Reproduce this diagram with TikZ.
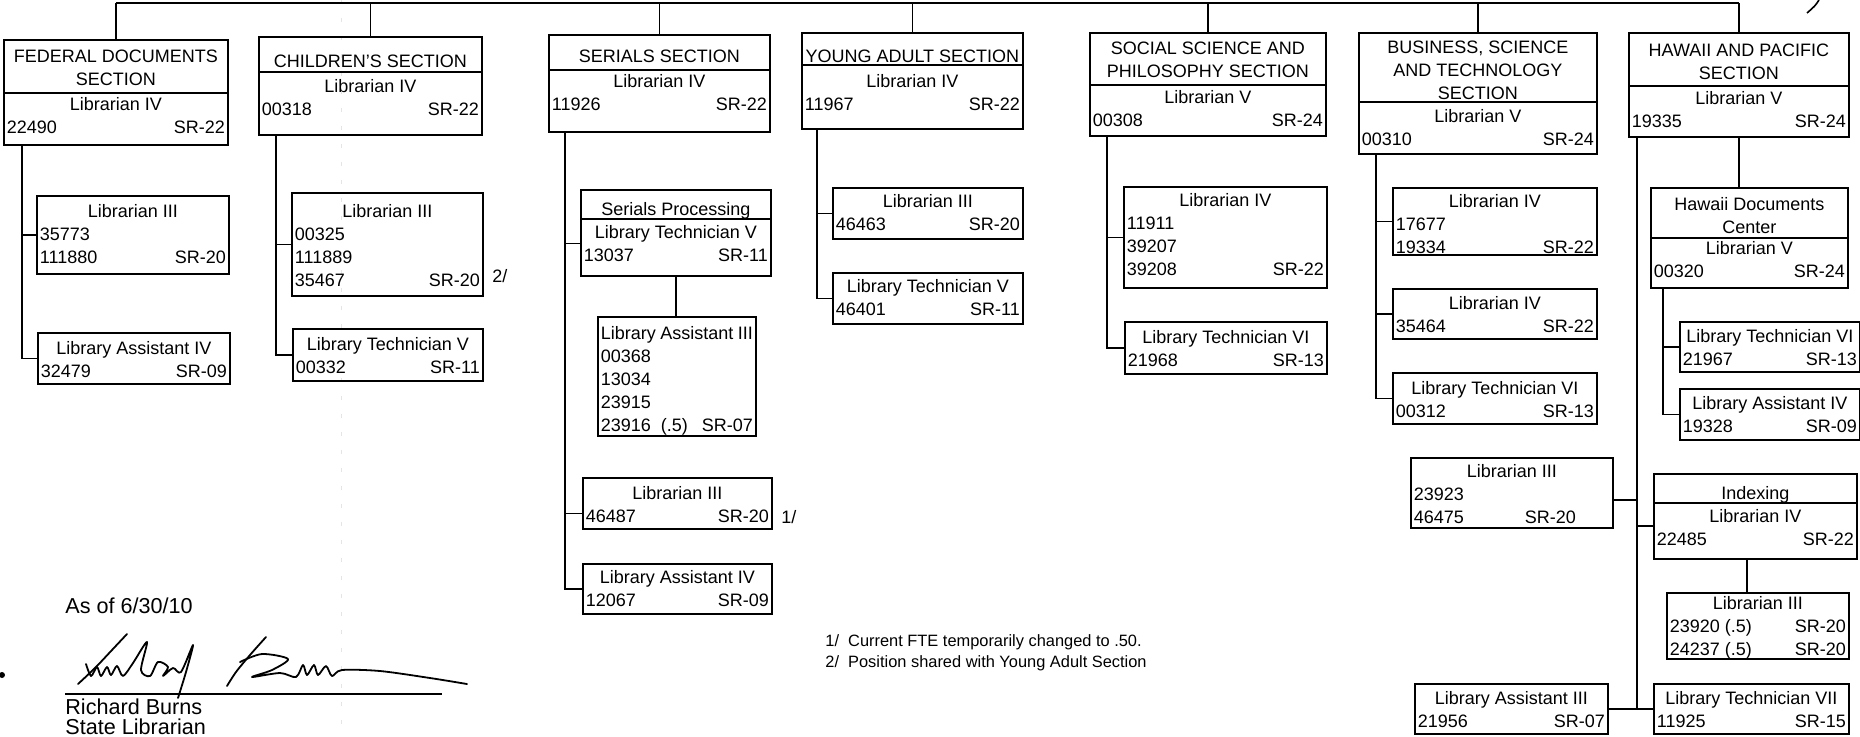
\documentclass[tikz,border=0pt]{standalone}
\usepackage{fontspec}
\setmainfont{Liberation Sans}
\usetikzlibrary{calc}
\tikzset{
  bx/.style={draw, line width=0.9pt, inner sep=0pt, anchor=north west, font=\fontsize{9}{11.5}\selectfont},
  ln/.style={line width=0.8pt},
  note/.style={inner sep=0pt, anchor=west, font=\fontsize{8.2}{11}\selectfont},
  fnmark/.style={inner sep=0pt, anchor=west, font=\fontsize{9}{11}\selectfont},
  sigtext/.style={inner sep=0pt, anchor=base west, font=\fontsize{10.8}{13}\selectfont},
  pen/.style={line width=0.9pt, line cap=round, line join=round},
}
% name, x1, y1, x2, y2, first-line centre y, content   (all in px)
\newcommand\orgbox[7]{%
  \pgfmathsetmacro\obw{(#4-#2)/2}%
  \pgfmathsetmacro\obh{(#5-#3)/2}%
  \pgfmathsetmacro\obt{(#4-#2)/2-3}%
  \pgfmathsetmacro\obp{max(0,(#6-#3-6.5)/2)}%
  \node[bx] (#1) at (#2,#3) {\vbox to \obh pt{\vskip\obp pt\hbox to \obw pt{\hskip1.5pt\vtop{\hsize=\obt pt\parindent=0pt\parskip=0pt\centering #7\par}\hss}\vss}};%
}
\begin{document}
\begin{tikzpicture}[x=0.5pt,y=-0.5pt]
\useasboundingbox (0,0) rectangle (1860,736);

% faint fold line of the scan
\draw[gray!20, line width=0.5pt, dash pattern=on 2pt off 7pt] (341,0) -- (341,736);

% ---------------- FEDERAL DOCUMENTS
\orgbox{fedh}{3}{39}{227}{92}{56}{FEDERAL DOCUMENTS\par SECTION}
\orgbox{fed}{3}{92}{227}{144}{103}{Librarian IV\par 22490\hfill SR-22}
\orgbox{fl3}{36}{195}{228}{273}{210}{Librarian III\par 35773\hfill\mbox{}\par 111880\hfill SR-20}
\orgbox{fla4}{37}{332}{229}{383}{347}{Library Assistant IV\par 32479\hfill SR-09}

% ---------------- CHILDREN'S
\orgbox{chih}{258}{36}{481}{71}{61}{CHILDREN'S SECTION}
\orgbox{chi}{258}{71}{481}{134}{85}{Librarian IV\par 00318\hfill SR-22}
\orgbox{cl3}{291}{192}{482}{295}{210}{Librarian III\par 00325\hfill\mbox{}\par 111889\hfill\mbox{}\par 35467\hfill SR-20}
\orgbox{clt5}{292}{328}{482}{380}{343}{Library Technician V\par 00332\hfill SR-11}
\node[fnmark] (m2) at (492,276) {2/};

% ---------------- SERIALS
\orgbox{serh}{548}{34}{769}{69}{56}{SERIALS SECTION}
\orgbox{ser}{548}{69}{769}{131}{80}{Librarian IV\par 11926\hfill SR-22}
\orgbox{sph}{580}{189}{770}{218}{208}{Serials Processing}
\orgbox{sp}{580}{218}{770}{275}{231}{Library Technician V\par 13037\hfill SR-11}
\orgbox{sla3}{597}{316}{755}{435}{332}{Library Assistant III\par 00368\hfill\mbox{}\par 13034\hfill\mbox{}\par 23915\hfill\mbox{}\par 23916\ \ (.5)\hfill SR-07}
\orgbox{sl3}{582}{477}{771}{528}{492}{Librarian III\par 46487\hfill SR-20}
\orgbox{sla4}{582}{563}{771}{613}{576}{Library Assistant IV\par 12067\hfill SR-09}
\node[fnmark] (m1) at (781,517) {1/};

% ---------------- YOUNG ADULT
\orgbox{yah}{801}{32}{1022}{64}{56}{YOUNG ADULT SECTION}
\orgbox{ya}{801}{64}{1022}{128}{80}{Librarian IV\par 11967\hfill SR-22}
\orgbox{yl3}{832}{187}{1022}{238}{200}{Librarian III\par 46463\hfill SR-20}
\orgbox{ylt5}{832}{272}{1022}{323}{285}{Library Technician V\par 46401\hfill SR-11}

% ---------------- SOCIAL SCIENCE
\orgbox{ssh}{1089}{32}{1325}{84}{48}{SOCIAL SCIENCE AND\par PHILOSOPHY SECTION}
\orgbox{ss}{1089}{84}{1325}{135}{96}{Librarian V\par 00308\hfill SR-24}
\orgbox{sl4}{1123}{186}{1326}{287}{199}{Librarian IV\par 11911\hfill\mbox{}\par 39207\hfill\mbox{}\par 39208\hfill SR-22}
\orgbox{slt6}{1124}{321}{1326}{373}{336}{Library Technician VI\par 21968\hfill SR-13}

% ---------------- BUSINESS
\orgbox{bush}{1358}{32}{1596}{101}{47}{BUSINESS, SCIENCE\par AND TECHNOLOGY\par SECTION}
\orgbox{bus}{1358}{101}{1596}{153}{115}{Librarian V\par 00310\hfill SR-24}
\orgbox{bl4a}{1392}{187}{1596}{254}{200}{Librarian IV\par 17677\hfill\mbox{}\par 19334\hfill SR-22}
\orgbox{bl4b}{1392}{288}{1596}{338}{302}{Librarian IV\par 35464\hfill SR-22}
\orgbox{blt6}{1392}{372}{1596}{423}{387}{Library Technician VI\par 00312\hfill SR-13}
\orgbox{bl3}{1410}{457}{1612}{527}{470}{Librarian III\par 23923\hfill\mbox{}\par 46475\hfill SR-20\kern17pt}
\orgbox{bla3}{1414}{683}{1607}{733}{697}{Library Assistant III\par 21956\hfill SR-07}

% ---------------- HAWAII
\orgbox{hawh}{1628}{32}{1848}{85}{50}{HAWAII AND PACIFIC\par SECTION}
\orgbox{haw}{1628}{85}{1848}{136}{97}{Librarian V\par 19335\hfill SR-24}
\orgbox{hdch}{1650}{187}{1847}{237}{203}{Hawaii Documents\par Center}
\orgbox{hdc}{1650}{237}{1847}{287}{247}{Librarian V\par 00320\hfill SR-24}
\orgbox{hlt6}{1679}{321}{1859}{371}{335}{Library Technician VI\par 21967\hfill SR-13}
\orgbox{hla4}{1679}{388}{1859}{439}{402}{Library Assistant IV\par 19328\hfill SR-09}
\orgbox{idxh}{1653}{473}{1856}{502}{492}{Indexing}
\orgbox{idx}{1653}{502}{1856}{558}{515}{Librarian IV\par 22485\hfill SR-22}
\orgbox{il3}{1666}{592}{1848}{658}{602}{Librarian III\par 23920 (.5)\hfill SR-20\par 24237 (.5)\hfill SR-20}
\orgbox{hlt7}{1653}{683}{1848}{733}{697}{Library Technician VII\par 11925\hfill SR-15}

% ---------------- top bar
\coordinate (top) at (0,3);
\draw[ln] (fedh.north |- top) -- (hawh.north |- top);
\foreach \n in {fedh,chih,serh,yah,ssh,bush,hawh}
  \draw[ln] (\n.north) -- (\n.north |- top);

% ---------------- trunks
\coordinate (fedx) at (22,0);
\draw[ln] (fedx |- fed.south) |- (fla4.west);
\draw[ln] (fedx |- fl3.west) -- (fl3.west);

\coordinate (chix) at (276,0);
\draw[ln] (chix |- chi.south) |- (clt5.west);
\draw[ln] (chix |- cl3.west) -- (cl3.west);

\coordinate (serx) at (565,0);
\path ($(sp.west)+(0,-4)$) coordinate (spc);
\path ($(sl3.west)+(0,10)$) coordinate (sl3c);
\draw[ln] (serx |- ser.south) |- (sla4.west);
\draw[ln] (serx |- spc) -- (spc);
\draw[ln] (serx |- sl3c) -- (sl3c);
\draw[ln] (sp.south) -- (sp.south |- sla3.north);

\coordinate (yax) at (817,0);
\draw[ln] (yax |- ya.south) |- (ylt5.west);
\draw[ln] (yax |- yl3.west) -- (yl3.west);

\coordinate (ssx) at (1107,0);
\draw[ln] (ssx |- ss.south) |- (slt6.west);
\draw[ln] (ssx |- sl4.west) -- (sl4.west);

\coordinate (busx) at (1376,0);
\draw[ln] (busx |- bus.south) |- (blt6.west);
\draw[ln] (busx |- bl4a.west) -- (bl4a.west);
\draw[ln] (busx |- bl4b.west) -- (bl4b.west);

\coordinate (hawx) at (1637,0);
\draw[ln] (hawx |- haw.south) -- (hawx |- hlt7.west);
\draw[ln] (bla3.east) -- (hlt7.west);
\path ($(bl3.east)+(0,7)$) coordinate (bl3c);
\draw[ln] (bl3c) -- (bl3c -| hawx);
\path ($(idx.west)+(0,-5)$) coordinate (idxc);
\draw[ln] (hawx |- idxc) -- (idxc);
\draw[ln] (haw.south) -- (haw.south |- hdch.north);

\coordinate (hdcx) at (1663,0);
\draw[ln] (hdcx |- hdc.south) |- (hla4.west);
\draw[ln] (hdcx |- hlt6.west) -- (hlt6.west);

\coordinate (idxx) at (1747,0);
\draw[ln] (idxx |- idx.south) -- (idxx |- il3.north);

% stray stroke at top right (cut off)
\draw[ln] (1819,0) .. controls (1815,6) .. (1807,13);

% ---------------- footnotes
\node[note] (fn1) at (825,642) {1/\ \ Current FTE temporarily changed to .50.};
\node[note] (fn2) at (825,663) {2/\ \ Position shared with Young Adult Section};

% ---------------- signature block
\node[sigtext] (asof) at (65,613) {As of 6/30/10};
\coordinate (sigl) at (65,694);
\coordinate (sigr) at (442,694);
\draw[line width=0.9pt] (sigl) -- (sigr);
\node[sigtext] (rb) at (65,714) {Richard Burns};
\node[sigtext] (sl) at (65,734) {State Librarian};
\fill (2,675) circle (1.5pt);

% handwritten signature
\draw[pen] plot[smooth] coordinates {(78,684) (95,668) (112,650) (127,634)};
\draw[pen] plot[smooth] coordinates {(86,664) (91,676) (97,667) (101,676) (107,667) (111,675) (117,666) (123,676) (133,663) (147,642) (141,670) (150,676) (158,662) (168,667) (163,676) (173,668) (181,672) (193,645) (186,672) (178,698)};
\draw[pen] plot[smooth] coordinates {(266,637) (250,655) (236,672) (227,686)};
\draw[pen] plot[smooth] coordinates {(240,662) (262,654) (288,659) (272,670) (252,677) (280,673) (296,677) (303,665) (307,675) (314,665) (318,675) (326,666) (332,676) (342,670) (380,671) (430,678) (467,684)};
\end{tikzpicture}
\end{document}
